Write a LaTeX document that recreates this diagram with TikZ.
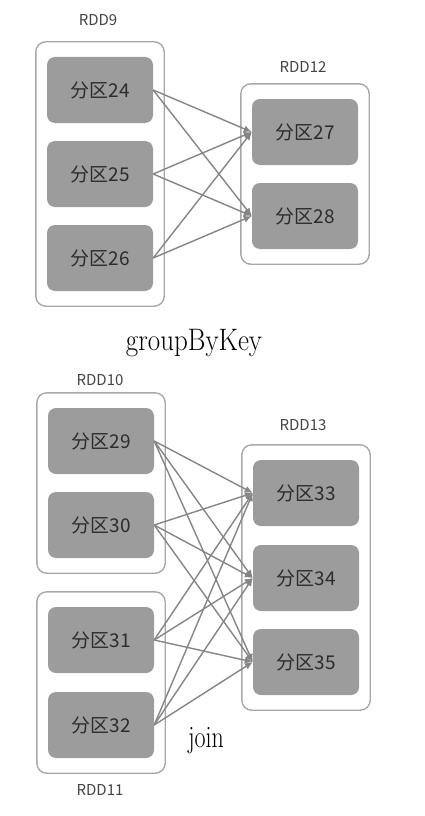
\documentclass[tikz,border=0pt]{standalone}
\usepackage{xcolor}
\usepackage{graphicx}
\usepackage{fontspec}
\newfontfamily\cjk{Noto Sans CJK SC}
\usetikzlibrary{calc, fit, arrows.meta}
\definecolor{partfill}{HTML}{9C9C9C}
\definecolor{parttext}{HTML}{2C2C2C}
\definecolor{boxline}{HTML}{A8A8A8}
\definecolor{depline}{HTML}{858585}
\definecolor{nametext}{HTML}{444444}

\begin{document}
\begin{tikzpicture}[x=1pt, y=-1pt,
    part/.style={fill=partfill, rounded corners=8pt, minimum width=106pt,
      minimum height=66pt, text=parttext, font=\cjk\fontsize{19}{19}\selectfont},
    rdd/.style={draw=boxline, line width=1.4pt, rounded corners=10pt,
      inner xsep=11pt, inner ysep=15pt},
    rddname/.style={text=nametext, font=\cjk\fontsize{15}{15}\selectfont},
    opname/.style={text=black, anchor=base},
    dep/.style={draw=depline, line width=1.4pt, -{Latex[length=8pt, width=7pt]}}]
      \useasboundingbox (0,0) rectangle (425,816);%

      % groupByKey
      \foreach \n/\y in {24/90, 25/174, 26/258}%
        \node[part] (p\n) at (100,\y) {分区\n};
      \foreach \n/\y in {27/132, 28/216}%
        \node[part] (p\n) at (305,\y) {分区\n};
      \node[rdd, fit=(p24)(p26)] (rdd9) {};%
      \node[rdd, fit=(p27)(p28)] (rdd12) {};%
      \node[rddname] (n9) at (98,20) {RDD9};%
      \node[rddname] (n12) at (303,67) {RDD12};%
      \foreach \s in {24,25,26}%
        \foreach \t in {27,28}%
          \draw[dep] (p\s.east) -- (p\t.west);
      \node[opname, font=\fontsize{27}{27}\selectfont] (gbk) at (194,350)
        {\scalebox{1}[1.15]{groupByKey}};%

      % join
      \foreach \n/\y in {29/441, 30/525, 31/640, 32/725}%
        \node[part] (p\n) at (101,\y) {分区\n};
      \foreach \n/\y in {33/493, 34/578, 35/662}%
        \node[part] (p\n) at (306,\y) {分区\n};
      \node[rdd, fit=(p29)(p30)] (rdd10) {};%
      \node[rdd, fit=(p31)(p32)] (rdd11) {};%
      \node[rdd, fit=(p33)(p35)] (rdd13) {};%
      \node[rddname] (n10) at (100,380) {RDD10};%
      \node[rddname] (n11) at (100,790) {RDD11};%
      \node[rddname] (n13) at (303,425) {RDD13};%
      \foreach \s in {29,30,31,32}%
        \foreach \t in {33,34,35}%
          \draw[dep] (p\s.east) -- (p\t.west);
      \node[opname, font=\fontsize{24}{24}\selectfont] (jn) at (206,747)
        {\scalebox{1}[1.3]{join}};%
    \end{tikzpicture}
\end{document}
